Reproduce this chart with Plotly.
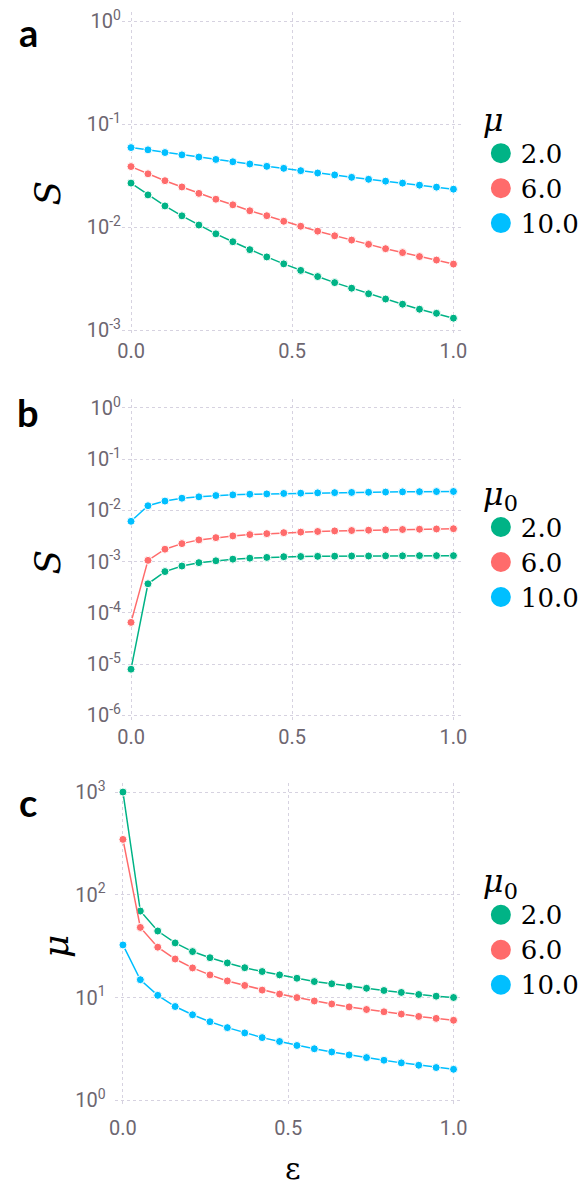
import plotly.graph_objects as go

# ---------------- data ----------------
eps = [0.0, 0.0526, 0.1053, 0.1579, 0.2105, 0.2632, 0.3158, 0.3684, 0.4211, 0.4737,
       0.5263, 0.5789, 0.6316, 0.6842, 0.7368, 0.7895, 0.8421, 0.8947, 0.9474, 1.0]

series_labels = ["2.0", "6.0", "10.0"]

S_a_mu2 = [0.0268, 0.0206, 0.0161, 0.0129, 0.0105, 0.00863, 0.00723, 0.00606, 0.00515, 0.00441,
           0.00381, 0.00332, 0.00290, 0.00256, 0.00226, 0.00201, 0.00179, 0.00160, 0.00146, 0.00131]
S_a_mu6 = [0.0388, 0.0330, 0.0283, 0.0246, 0.0213, 0.0187, 0.0165, 0.01445, 0.01294, 0.01142,
           0.01022, 0.00916, 0.00826, 0.00750, 0.00682, 0.00619, 0.00567, 0.00519, 0.00480, 0.00439]
S_a_mu10 = [0.0593, 0.0564, 0.0531, 0.0504, 0.0480, 0.0455, 0.0432, 0.0411, 0.0390, 0.0373,
            0.0354, 0.0336, 0.0322, 0.0305, 0.0292, 0.0280, 0.0268, 0.0256, 0.0245, 0.0234]

S_b_mu2 = [7.98e-6, 0.000370, 0.000641, 0.000822, 0.000957, 0.00104, 0.00112, 0.00117, 0.00121, 0.00125,
           0.00126, 0.00127, 0.00128, 0.00129, 0.00129, 0.00130, 0.00130, 0.00131, 0.00131, 0.00131]
S_b_mu6 = [6.53e-5, 0.00106, 0.00175, 0.00225, 0.00266, 0.00294, 0.00318, 0.00337, 0.00352, 0.00368,
           0.00377, 0.00388, 0.00398, 0.00405, 0.00411, 0.00418, 0.00424, 0.00429, 0.00434, 0.00439]
S_b_mu10 = [0.00613, 0.01233, 0.0152, 0.0173, 0.0184, 0.0195, 0.0201, 0.0207, 0.0210, 0.0214,
            0.0217, 0.0220, 0.0222, 0.0224, 0.0226, 0.0228, 0.0230, 0.0232, 0.0233, 0.0234]

mu_c_2 = [1000, 69.5, 44.4, 34.0, 28.0, 24.4, 21.7, 19.5, 17.9, 16.6,
          15.4, 14.3, 13.6, 12.9, 12.3, 11.7, 11.2, 10.7, 10.3, 10.0]
mu_c_6 = [346, 48.1, 30.9, 23.7, 19.4, 16.6, 14.5, 13.1, 11.8, 10.8,
          9.98, 9.25, 8.65, 8.1, 7.64, 7.26, 6.89, 6.54, 6.26, 6.0]
mu_c_10 = [32.5, 14.9, 10.5, 8.17, 6.79, 5.81, 5.09, 4.52, 4.07, 3.73,
           3.41, 3.17, 2.95, 2.76, 2.60, 2.45, 2.31, 2.19, 2.08, 2.0]

x_tickvals = [0.0, 0.5, 1.0]
x_ticktext = ["0.0", "0.5", "1.0"]
ya_tickvals = [1e-3, 1e-2, 1e-1, 1e0]
ya_ticktext = ["10<sup>-3</sup>", "10<sup>-2</sup>", "10<sup>-1</sup>", "10<sup>0</sup>"]
yb_tickvals = [1e-6, 1e-5, 1e-4, 1e-3, 1e-2, 1e-1, 1e0]
yb_ticktext = ["10<sup>-6</sup>", "10<sup>-5</sup>", "10<sup>-4</sup>", "10<sup>-3</sup>",
               "10<sup>-2</sup>", "10<sup>-1</sup>", "10<sup>0</sup>"]
yc_tickvals = [1e0, 1e1, 1e2, 1e3]
yc_ticktext = ["10<sup>0</sup>", "10<sup>1</sup>", "10<sup>2</sup>", "10<sup>3</sup>"]

# ---------------- styles ----------------
COLORS = ["#00B386", "#FF6B6B", "#00BFFF"]
W, H = 584, 1193
SERIF = "DejaVu Serif"
SANS = "Roboto"
TICK_FONT = dict(family=SANS, size=20, color="#6d6670")
GRID = "#d6d2e0"

fig = go.Figure()

panels = [
    ("x", "y", "legend", [S_a_mu2, S_a_mu6, S_a_mu10]),
    ("x2", "y2", "legend2", [S_b_mu2, S_b_mu6, S_b_mu10]),
    ("x3", "y3", "legend3", [mu_c_2, mu_c_6, mu_c_10]),
]

for xa, ya, lg, ys in panels:
    for i, yv in enumerate(ys):
        fig.add_trace(go.Scatter(
            x=eps, y=yv, xaxis=xa, yaxis=ya, mode="lines+markers",
            line=dict(color=COLORS[i], width=1.5),
            marker=dict(color=COLORS[i], size=8, line=dict(color="white", width=1)),
            showlegend=False, hoverinfo="skip"))
    for i, lab in enumerate(series_labels):
        fig.add_trace(go.Scatter(
            x=[None], y=[None], xaxis=xa, yaxis=ya, mode="markers",
            name='<span style="font-size:26px">' + lab + '</span>',
            marker=dict(color=COLORS[i], size=16, line=dict(color=COLORS[i], width=4)),
            legend=lg, showlegend=True))

def xaxis(domain, rng, anchor, standoff=0):
    return dict(domain=domain, range=rng, anchor=anchor, tickvals=x_tickvals, ticktext=x_ticktext,
                showgrid=True, gridcolor=GRID, griddash="dot", gridwidth=1, zeroline=False,
                showline=False, ticks="", tickfont=TICK_FONT, ticklabelstandoff=standoff)

def yaxis(domain, rng, anchor, tv, tt, standoff=0):
    return dict(domain=domain, type="log", range=rng, anchor=anchor, tickvals=tv, ticktext=tt,
                showgrid=True, gridcolor=GRID, griddash="dot", gridwidth=1, zeroline=False,
                showline=False, ticks="", tickfont=TICK_FONT, ticklabelstandoff=standoff)

def legend(ytop, title):
    return dict(x=491 / W, xanchor="left", y=1 - ytop / H, yanchor="top",
                title=dict(text=title, font=dict(family=SERIF, size=32, color="black")),
                font=dict(family=SERIF, size=24.6, color="black"),
                bgcolor="rgba(0,0,0,0)", itemsizing="trace", tracegroupgap=0)

layout = dict(
    width=W, height=H, margin=dict(l=0, r=0, t=0, b=0),
    plot_bgcolor="white", paper_bgcolor="white",
    font=dict(family=SANS),
    xaxis=xaxis([120.7 / W, 472.7 / W], [-0.028, 1.03], "y", 3),
    xaxis2=xaxis([120.7 / W, 472.7 / W], [-0.028, 1.03], "y2", 1),
    xaxis3=xaxis([113 / W, 472.7 / W], [-0.0255, 1.029], "y3", 8),
    yaxis=yaxis([1 - 333 / H, 1 - 7 / H], [-3.04, 0.09], "x", ya_tickvals, ya_ticktext),
    yaxis2=yaxis([1 - 725 / H, 1 - 398 / H], [-6.13, 0.18], "x2", yb_tickvals, yb_ticktext),
    yaxis3=yaxis([1 - 1113 / H, 1 - 786.7 / H], [-0.055, 3.087], "x3", yc_tickvals, yc_ticktext, 8),
    legend=legend(85, "<i>μ</i>"),
    legend2=legend(463, "<i>μ</i><sub>0</sub>"),
    legend3=legend(855, "<i>μ</i><sub>0</sub>"),
)
fig.update_layout(**layout)

LETTER_FONT = dict(family="Lato", size=38, color="black", weight="bold")
AX_FONT = dict(family=SERIF, size=36, color="black")

annotations = [
    dict(text="<b>a</b>", x=24 / W, y=1 - 27 / H, font=LETTER_FONT),
    dict(text="<b>b</b>", x=24 / W, y=1 - 411 / H, font=LETTER_FONT),
    dict(text="<b>c</b>", x=24 / W, y=1 - 806 / H, font=LETTER_FONT),
    dict(text="<i>S</i>", x=44 / W, y=1 - 190 / H, font=AX_FONT, textangle=-90),
    dict(text="<i>S</i>", x=44 / W, y=1 - 563 / H, font=AX_FONT, textangle=-90),
    dict(text="<i>μ</i>", x=52 / W, y=1 - 952 / H, font=AX_FONT, textangle=-90),
    dict(text="ε", x=297 / W, y=1 - 1176 / H, font=dict(family=SERIF, size=30, color="black")),
]
for a in annotations:
    a.update(xref="paper", yref="paper", showarrow=False, xanchor="center", yanchor="middle")
fig.update_layout(annotations=annotations)

fig.write_html("out.html")
